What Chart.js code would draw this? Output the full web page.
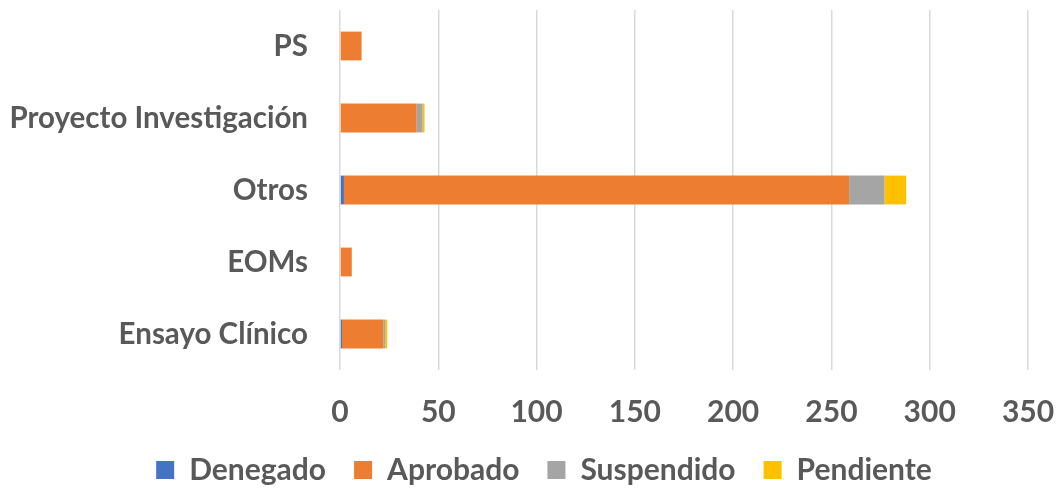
<!DOCTYPE html>
<html lang="es">
<head>
    <meta charset="UTF-8">
    <title>Estado por tipo de estudio</title>
    <script src="https://cdn.jsdelivr.net/npm/chart.js"></script>
    <style>
        body {
            margin: 0;
            padding: 0;
            background: #ffffff;
        }

        .chart-box {
            position: relative;
            width: 1057px;
            height: 489px;
        }
    </style>
</head>
<body>

<div class="chart-box">
    <canvas id="estadoChart"></canvas>
</div>

<script>
    // Categorias (de arriba a abajo)
    const categorias = ['PS', 'Proyecto Investigación', 'Otros', 'EOMs', 'Ensayo Clínico'];

    // Valores por estado
    const denegado   = [0, 0, 2, 0, 1];
    const aprobado   = [11, 39, 257, 6, 21];
    const suspendido = [0, 3, 18, 0, 1];
    const pendiente  = [0, 1, 11, 0, 1];

    const ejeX = { min: 0, max: 350, paso: 50 };

    const textColor = '#595959';
    const fontFamily = 'Lato, "Open Sans", sans-serif';

    // fija la altura de la leyenda y la desplaza un poco a la derecha
    const legendLayout = {
        id: 'legendLayout',
        beforeInit(chart) {
            const fitOrig = chart.legend.fit;
            chart.legend.fit = function () {
                fitOrig.bind(chart.legend)();
                this.height = 62;
            };
        },
        afterLayout(chart) {
            chart.legend.left += 30;
            chart.legend.right += 30;
        }
    };

    const ctx = document.getElementById('estadoChart').getContext('2d');
    new Chart(ctx, {
        type: 'bar',
        data: {
            labels: categorias,
            datasets: [
                { label: 'Denegado', data: denegado, backgroundColor: '#4472c4' },
                { label: 'Aprobado', data: aprobado, backgroundColor: '#ed7d31' },
                { label: 'Suspendido', data: suspendido, backgroundColor: '#a5a5a5' },
                { label: 'Pendiente', data: pendiente, backgroundColor: '#ffc000' }
            ]
        },
        options: {
            indexAxis: 'y',
            responsive: true,
            maintainAspectRatio: false,
            animation: false,
            categoryPercentage: 0.4,
            barPercentage: 1.0,
            layout: {
                padding: { top: 10, right: 29, bottom: 0, left: 0 }
            },
            plugins: {
                tooltip: { enabled: false },
                legend: {
                    position: 'bottom',
                    labels: {
                        boxWidth: 18,
                        boxHeight: 18,
                        padding: 28,
                        color: textColor,
                        font: { family: fontFamily, size: 30, weight: 'bold' }
                    }
                }
            },
            scales: {
                x: {
                    stacked: true,
                    min: ejeX.min,
                    max: ejeX.max,
                    ticks: {
                        stepSize: ejeX.paso,
                        padding: 24,
                        color: textColor,
                        font: { family: fontFamily, size: 30, weight: 'bold' }
                    },
                    grid: {
                        color: '#d9d9d9',
                        lineWidth: 1.5,
                        drawTicks: false
                    },
                    border: { display: false },
                    afterFit: function (scale) {
                        scale.height = 57;
                        scale.paddingLeft = 0;
                        scale.paddingRight = 0;
                    }
                },
                y: {
                    stacked: true,
                    ticks: {
                        padding: 32,
                        color: textColor,
                        font: { family: fontFamily, size: 29.5, weight: 'bold' }
                    },
                    grid: { display: false, drawTicks: false },
                    border: { display: false },
                    afterFit: function (scale) {
                        scale.width = 340;
                        scale.paddingTop = 0;
                        scale.paddingBottom = 0;
                    }
                }
            }
        },
        plugins: [legendLayout]
    });
</script>
</body>
</html>
